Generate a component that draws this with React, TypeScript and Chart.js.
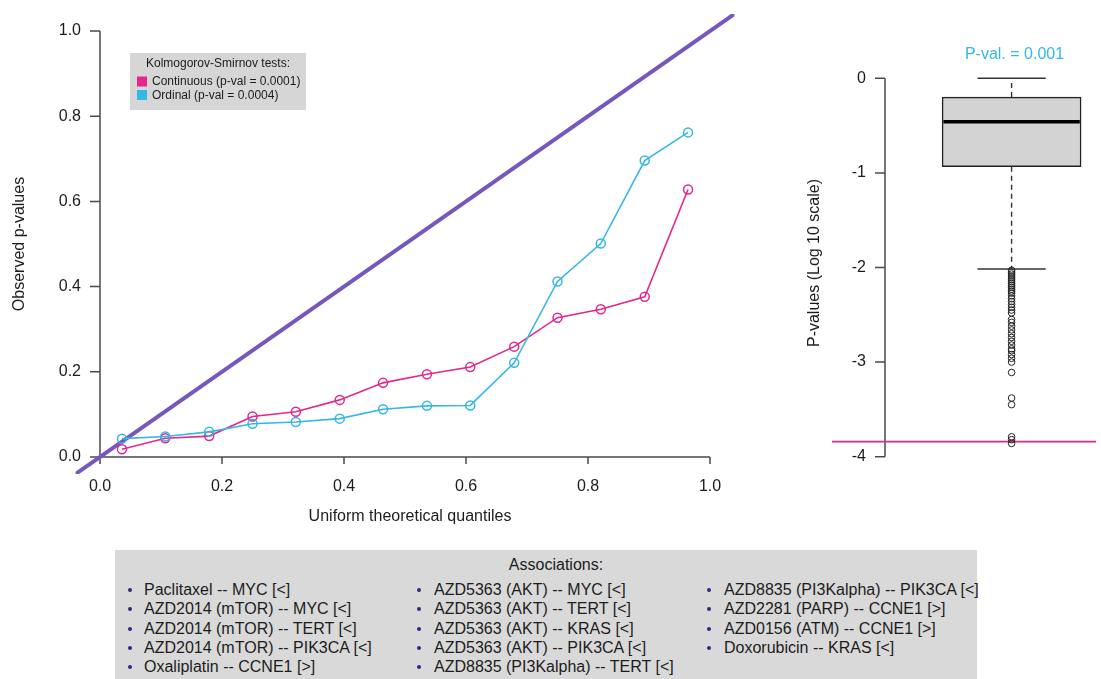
import React, { useEffect, useRef } from 'react';
import { Chart, registerables } from 'chart.js';

Chart.register(...registerables);

// ---------- data ----------
const quantiles = [0.036, 0.107, 0.179, 0.25, 0.321, 0.393, 0.464, 0.536, 0.607, 0.679, 0.75, 0.821, 0.893, 0.964];
const continuousP = [0.018, 0.044, 0.049, 0.095, 0.106, 0.134, 0.174, 0.194, 0.211, 0.259, 0.327, 0.347, 0.376, 0.628];
const ordinalP = [0.043, 0.048, 0.059, 0.078, 0.082, 0.09, 0.112, 0.12, 0.121, 0.221, 0.412, 0.501, 0.696, 0.762];
const qqTicks = [0, 0.2, 0.4, 0.6, 0.8, 1.0];
const qqTickLabels = ['0.0', '0.2', '0.4', '0.6', '0.8', '1.0'];
const ksTitle = 'Kolmogorov-Smirnov tests:';
const ksLabels = ['Continuous (p-val = 0.0001)', 'Ordinal (p-val = 0.0004)'];

const boxLowerWhisker = -2.016;
const boxQ1 = -0.934;
const boxMedian = -0.459;
const boxQ3 = -0.198;
const boxUpperWhisker = 0;
const boxOutliers = [
  -2.03, -2.05, -2.07, -2.09, -2.11, -2.13, -2.15, -2.17, -2.19, -2.21, -2.23, -2.25, -2.27,
  -2.3, -2.33, -2.36, -2.39, -2.42, -2.45, -2.48, -2.55, -2.58, -2.62, -2.66, -2.7, -2.74,
  -2.78, -2.82, -2.86, -2.88, -2.92, -2.96, -3.0, -3.11, -3.38, -3.45, -3.79, -3.82, -3.86,
];
const boxThreshold = -3.84;
const boxTicks = [0, -1, -2, -3, -4];
const boxTickLabels = ['0', '-1', '-2', '-3', '-4'];
const boxPvalText = 'P-val. = 0.001';

const associationsCol1 = [
  'Paclitaxel -- MYC [<]',
  'AZD2014 (mTOR) -- MYC [<]',
  'AZD2014 (mTOR) -- TERT [<]',
  'AZD2014 (mTOR) -- PIK3CA [<]',
  'Oxaliplatin -- CCNE1 [>]',
];
const associationsCol2 = [
  'AZD5363 (AKT) -- MYC [<]',
  'AZD5363 (AKT) -- TERT [<]',
  'AZD5363 (AKT) -- KRAS [<]',
  'AZD5363 (AKT) -- PIK3CA [<]',
  'AZD8835 (PI3Kalpha) -- TERT [<]',
];
const associationsCol3 = [
  'AZD8835 (PI3Kalpha) -- PIK3CA [<]',
  'AZD2281 (PARP) -- CCNE1 [>]',
  'AZD0156 (ATM) -- CCNE1 [>]',
  'Doxorubicin -- KRAS [<]',
];

// ---------- styles ----------
const PINK = '#E2288C';
const CYAN = '#36B7E6';
const PURPLE = '#7657BE';
const AXIS = '#4a4a4a';
const TEXT = '#1c1c1c';
const FONT = '"Liberation Sans", Arial, Helvetica, sans-serif';

const qqAxesPlugin = {
  id: 'qqAxes',
  beforeDatasetsDraw(chart: any) {
    const { ctx, scales } = chart;
    const x = scales.x;
    const y = scales.y;
    const x0 = x.getPixelForValue(0);
    const y0 = y.getPixelForValue(0);
    ctx.save();
    ctx.strokeStyle = AXIS;
    ctx.lineWidth = 1.5;
    ctx.beginPath();
    ctx.moveTo(x0, y0);
    ctx.lineTo(x.getPixelForValue(1), y0);
    qqTicks.forEach((t) => {
      const px = x.getPixelForValue(t);
      ctx.moveTo(px, y0);
      ctx.lineTo(px, y0 + 7);
    });
    ctx.moveTo(x0, y0);
    ctx.lineTo(x0, y.getPixelForValue(1));
    qqTicks.forEach((t) => {
      const py = y.getPixelForValue(t);
      ctx.moveTo(x0, py);
      ctx.lineTo(x0 - 10, py);
    });
    ctx.stroke();

    ctx.fillStyle = TEXT;
    ctx.font = `16px ${FONT}`;
    ctx.textAlign = 'center';
    ctx.textBaseline = 'middle';
    qqTicks.forEach((t, i) => {
      ctx.fillText(qqTickLabels[i], x.getPixelForValue(t), y0 + 30);
    });
    ctx.textAlign = 'right';
    qqTicks.forEach((t, i) => {
      ctx.fillText(qqTickLabels[i], x0 - 19, y.getPixelForValue(t));
    });
    ctx.textAlign = 'center';
    ctx.fillText('Uniform theoretical quantiles', 410, 517);
    ctx.translate(20, (chart.chartArea.top + chart.chartArea.bottom) / 2);
    ctx.rotate(-Math.PI / 2);
    ctx.fillText('Observed p-values', 0, 0);
    ctx.restore();
  },
  afterDraw(chart: any) {
    const { ctx } = chart;
    ctx.save();
    ctx.fillStyle = '#d6d6d6';
    ctx.fillRect(130, 53, 176, 57);
    ctx.fillStyle = TEXT;
    ctx.font = `12px ${FONT}`;
    ctx.textAlign = 'center';
    ctx.textBaseline = 'middle';
    ctx.fillText(ksTitle, 218, 64);
    ctx.textAlign = 'left';
    const colors = [PINK, CYAN];
    ksLabels.forEach((lab, i) => {
      const cy = 81.5 + i * 13.5;
      ctx.fillStyle = colors[i];
      ctx.fillRect(137, cy - 5, 10, 10);
      ctx.fillStyle = TEXT;
      ctx.fillText(lab, 152, cy + 0.5);
    });
    ctx.restore();
  },
};

const boxAxesPlugin = {
  id: 'boxAxes',
  beforeDatasetsDraw(chart: any) {
    const { ctx, scales } = chart;
    const y = scales.y;
    const ax = 885 - 780;
    ctx.save();
    ctx.strokeStyle = AXIS;
    ctx.lineWidth = 1.5;
    ctx.beginPath();
    ctx.moveTo(ax, y.getPixelForValue(0));
    ctx.lineTo(ax, y.getPixelForValue(-4));
    boxTicks.forEach((t) => {
      const py = y.getPixelForValue(t);
      ctx.moveTo(ax, py);
      ctx.lineTo(ax - 10, py);
    });
    ctx.stroke();
    ctx.fillStyle = TEXT;
    ctx.font = `16px ${FONT}`;
    ctx.textAlign = 'right';
    ctx.textBaseline = 'middle';
    boxTicks.forEach((t, i) => {
      ctx.fillText(boxTickLabels[i], ax - 19, y.getPixelForValue(t));
    });
    ctx.textAlign = 'center';
    ctx.fillStyle = CYAN;
    ctx.fillText(boxPvalText, 1014.5 - 780, 55);
    ctx.fillStyle = TEXT;
    ctx.translate(815 - 780, 263);
    ctx.rotate(-Math.PI / 2);
    ctx.fillText('P-values (Log 10 scale)', 0, 0);
    ctx.restore();
  },
};

function QQChart() {
  const ref = useRef<HTMLCanvasElement | null>(null);
  useEffect(() => {
    if (!ref.current) return;
    const chart = new Chart(ref.current, {
      type: 'scatter',
      data: {
        datasets: [
          {
            label: 'Ordinal',
            data: quantiles.map((q, i) => ({ x: q, y: ordinalP[i] })),
            showLine: true,
            borderColor: CYAN,
            borderWidth: 1.6,
            pointRadius: 4.5,
            pointBorderWidth: 1.5,
            pointBorderColor: CYAN,
            pointBackgroundColor: 'rgba(0,0,0,0)',
          },
          {
            label: 'Continuous',
            data: quantiles.map((q, i) => ({ x: q, y: continuousP[i] })),
            showLine: true,
            borderColor: PINK,
            borderWidth: 1.6,
            pointRadius: 4.5,
            pointBorderWidth: 1.5,
            pointBorderColor: PINK,
            pointBackgroundColor: 'rgba(0,0,0,0)',
          },
          {
            label: 'Identity',
            data: [
              { x: -0.2, y: -0.2 },
              { x: 1.2, y: 1.2 },
            ],
            showLine: true,
            borderColor: PURPLE,
            borderWidth: 4,
            pointRadius: 0,
            clip: 0,
          } as any,
        ],
      },
      options: {
        responsive: false,
        devicePixelRatio: 1,
        animation: false,
        events: [],
        layout: { padding: { left: 75.6, right: 25.6, top: 14, bottom: 66 } },
        plugins: { legend: { display: false }, tooltip: { enabled: false } },
        scales: {
          x: { type: 'linear', min: -0.04, max: 1.04, display: false },
          y: { type: 'linear', min: -0.04, max: 1.04, display: false },
        },
      },
      plugins: [qqAxesPlugin],
    });
    return () => chart.destroy();
  }, []);
  return (
    <canvas
      ref={ref}
      width={760}
      height={540}
      style={{ position: 'absolute', left: 0, top: 0, width: 760, height: 540 }}
    />
  );
}

function BoxChart() {
  const ref = useRef<HTMLCanvasElement | null>(null);
  useEffect(() => {
    if (!ref.current) return;
    const half = 0.5;
    const cap = 0.25;
    const chart = new Chart(ref.current, {
      type: 'scatter',
      data: {
        datasets: [
          {
            label: 'Outliers',
            data: boxOutliers.map((v) => ({ x: 1, y: v })),
            pointRadius: 3.3,
            pointBorderWidth: 1,
            pointBorderColor: '#222',
            pointBackgroundColor: 'rgba(0,0,0,0)',
            clip: false,
          } as any,
          {
            type: 'line',
            label: 'Median',
            data: [
              { x: 1 - half, y: boxMedian },
              { x: 1 + half, y: boxMedian },
            ],
            borderColor: '#000',
            borderWidth: 3.5,
            pointRadius: 0,
          },
          {
            type: 'bar',
            label: 'Box',
            data: [{ x: 1, y: [boxQ1, boxQ3] }],
            backgroundColor: '#d3d3d3',
            borderColor: '#222',
            borderWidth: 1.5,
            borderSkipped: false,
            barThickness: 139,
          } as any,
          {
            type: 'line',
            label: 'Upper whisker',
            data: [
              { x: 1, y: boxQ3 },
              { x: 1, y: boxUpperWhisker },
            ],
            borderColor: '#333',
            borderWidth: 1.4,
            borderDash: [5, 4],
            pointRadius: 0,
          },
          {
            type: 'line',
            label: 'Lower whisker',
            data: [
              { x: 1, y: boxQ1 },
              { x: 1, y: boxLowerWhisker },
            ],
            borderColor: '#333',
            borderWidth: 1.4,
            borderDash: [5, 4],
            pointRadius: 0,
          },
          {
            type: 'line',
            label: 'Upper cap',
            data: [
              { x: 1 - cap, y: boxUpperWhisker },
              { x: 1 + cap, y: boxUpperWhisker },
            ],
            borderColor: '#333',
            borderWidth: 1.5,
            pointRadius: 0,
          },
          {
            type: 'line',
            label: 'Lower cap',
            data: [
              { x: 1 - cap, y: boxLowerWhisker },
              { x: 1 + cap, y: boxLowerWhisker },
            ],
            borderColor: '#333',
            borderWidth: 1.5,
            pointRadius: 0,
          },
          {
            type: 'line',
            label: 'Threshold',
            data: [
              { x: -0.317, y: boxThreshold },
              { x: 1.619, y: boxThreshold },
            ],
            borderColor: PINK,
            borderWidth: 1.8,
            pointRadius: 0,
          },
        ],
      },
      options: {
        responsive: false,
        devicePixelRatio: 1,
        animation: false,
        events: [],
        layout: { padding: { left: 52, right: 0, top: 59.4, bottom: 18.6 } },
        plugins: { legend: { display: false }, tooltip: { enabled: false } },
        scales: {
          x: { type: 'linear', min: -0.317, max: 1.619, display: false, offset: false },
          y: { type: 'linear', min: -4.05, max: 0.2, display: false },
        },
      },
      plugins: [boxAxesPlugin],
    });
    return () => chart.destroy();
  }, []);
  return (
    <canvas
      ref={ref}
      width={321}
      height={480}
      style={{ position: 'absolute', left: 780, top: 0, width: 321, height: 480 }}
    />
  );
}

function Associations() {
  const cols = [
    { items: associationsCol1, bx: 130, tx: 144 },
    { items: associationsCol2, bx: 419, tx: 434 },
    { items: associationsCol3, bx: 709, tx: 724 },
  ];
  const rowY = [590, 609.3, 628.6, 647.9, 667.2];
  return (
    <div
      style={{
        position: 'absolute',
        left: 115,
        top: 550,
        width: 862,
        height: 129,
        background: '#d9d9d9',
        fontFamily: FONT,
        fontSize: 16,
        color: TEXT,
      }}
    >
      <div
        style={{
          position: 'absolute',
          left: 0,
          width: 882,
          top: 565 - 550 - 10,
          height: 20,
          lineHeight: '20px',
          textAlign: 'center',
          whiteSpace: 'nowrap',
        }}
      >
        Associations:
      </div>
      {cols.map((c, ci) =>
        c.items.map((t, ri) => (
          <React.Fragment key={`${ci}-${ri}`}>
            <div
              style={{
                position: 'absolute',
                left: c.bx - 115 - 2,
                top: rowY[ri] - 550 - 2,
                width: 4,
                height: 4,
                borderRadius: 2,
                background: '#2a2a82',
              }}
            />
            <div
              style={{
                position: 'absolute',
                left: c.tx - 115,
                top: rowY[ri] - 550 - 10,
                height: 20,
                lineHeight: '20px',
                whiteSpace: 'nowrap',
              }}
            >
              {t}
            </div>
          </React.Fragment>
        ))
      )}
    </div>
  );
}

export default function App() {
  return (
    <div
      style={{
        position: 'absolute',
        left: 0,
        top: 0,
        width: 1101,
        height: 679,
        overflow: 'hidden',
        background: '#fff',
      }}
    >
      <QQChart />
      <BoxChart />
      <Associations />
    </div>
  );
}
